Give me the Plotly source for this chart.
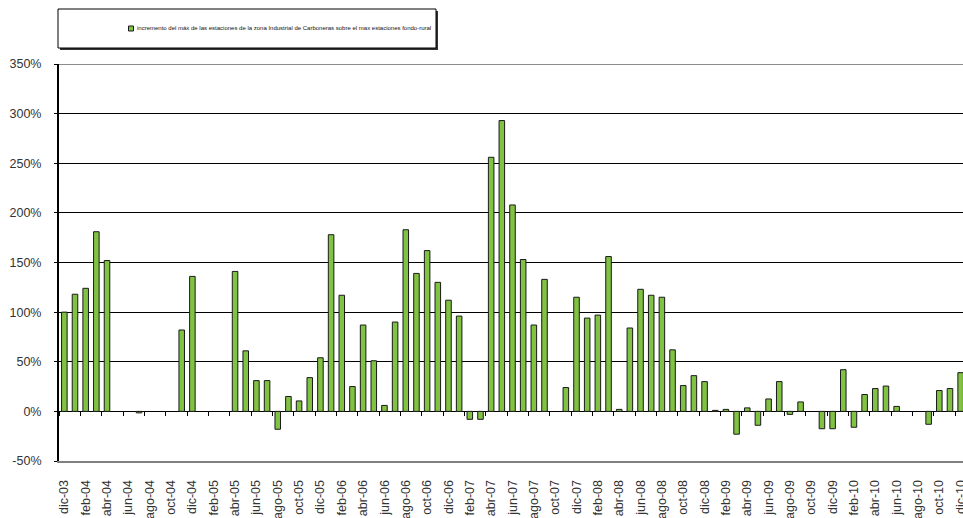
import plotly.graph_objects as go

# month categories dic-03 .. dic-10
month_abbr = ['ene', 'feb', 'mar', 'abr', 'may', 'jun', 'jul', 'ago', 'sep', 'oct', 'nov', 'dic']
years = ['04', '05', '06', '07', '08', '09', '10']
months = ['dic-03'] + [f'{m}-{y}' for y in years for m in month_abbr]

# increment (%) of the industrial-zone max over the rural background max
increment = [
    100, 118, 124, 181, 152, None, None, -1.5, None, None, None, 82, 136,          # dic-03 .. dic-04
    None, None, None, 141, 61, 31, 31, -18, 15, 10.5, 34, 54,                     # 2005
    178, 117, 25, 87, 51, 6, 90, 183, 139, 162, 130, 112,                          # 2006
    96, -8, -8, 256, 293, 208, 153, 87, 133, None, 24, 115,                        # 2007
    94, 97, 156, 2, 84, 123, 117, 115, 62, 26, 36, 30,                             # 2008
    1, 2, -23, 3.5, -14, 12.5, 30, -3, 9.5, None, -17.5, -17.5,                    # 2009
    42, -16, 17, 23, 25.5, 5, None, None, -13, 21, 23, 39,                         # 2010
]

y_ticks = [-50, 0, 50, 100, 150, 200, 250, 300, 350]
y_labels = [f'{v}%' for v in y_ticks]

legend_text = ('incremento del máx de las estaciones de la zona Industrial de Carboneras '
               'sobre el max estaciones fondo-rural')

W, H = 963, 518
ML, MT, MB, MR = 59, 64, 57, 0
PW, PH = W - ML - MR, H - MT - MB


def px(x):
    return (x - ML) / PW


def py(y):
    return (H - MB - y) / PH


fig = go.Figure()
fig.add_trace(go.Bar(
    x=months,
    y=increment,
    width=0.52,
    marker=dict(color='#80c241', line=dict(color='#1a1a1a', width=1)),
    showlegend=False,
))

fig.update_layout(
    width=W,
    height=H,
    margin=dict(l=ML, r=MR, t=MT, b=MB),
    paper_bgcolor='white',
    plot_bgcolor='white',
    font=dict(family='Arial, Liberation Sans, sans-serif', size=12, color='#222222'),
    xaxis=dict(
        type='category',
        categoryorder='array',
        categoryarray=months,
        range=[-0.5, 84.22],
        tickmode='array',
        tickvals=months[::2],
        ticktext=months[::2],
        tickangle=-90,
        ticks='',
        ticklabelstandoff=12,
        showgrid=False,
        showline=True,
        linecolor='#808080',
        linewidth=2,
        automargin=False,
        tickfont=dict(size=12.5, color='#333333'),
    ),
    xaxis2=dict(
        type='category',
        matches='x',
        overlaying='x',
        anchor='free',
        position=0.125,
        tickmode='array',
        tickvals=months[::2],
        tickson='boundaries',
        ticks='outside',
        ticklen=4,
        tickcolor='#000000',
        showticklabels=False,
        showgrid=False,
        showline=False,
    ),
    yaxis=dict(
        range=[-50, 350],
        tickmode='array',
        tickvals=y_ticks,
        ticktext=y_labels,
        ticks='outside',
        ticklen=3,
        tickcolor='#000000',
        ticklabelstandoff=10,
        showgrid=True,
        gridcolor='#000000',
        gridwidth=1,
        zeroline=True,
        zerolinecolor='#000000',
        zerolinewidth=1,
        showline=True,
        linecolor='#000000',
        linewidth=2,
        automargin=False,
        tickfont=dict(size=12.5, color='#333333'),
    ),
    shapes=[
        # grey frame line at the top of the plot area
        dict(type='line', xref='paper', yref='y', x0=0, x1=1, y0=350, y1=350,
             line=dict(color='#8c8c8c', width=2)),
        # legend box with shadow
        dict(type='rect', xref='paper', yref='paper',
             x0=px(60), x1=px(438), y0=py(50), y1=py(11),
             fillcolor='#333333', line=dict(width=0), layer='above'),
        dict(type='rect', xref='paper', yref='paper',
             x0=px(58), x1=px(436), y0=py(48), y1=py(9),
             fillcolor='white', line=dict(color='#000000', width=1), layer='above'),
        # legend key
        dict(type='rect', xref='paper', yref='paper',
             x0=px(128.5), x1=px(133.5), y0=py(31), y1=py(26),
             fillcolor='#80c241', line=dict(color='#1a1a1a', width=1), layer='above'),
    ],
    annotations=[
        dict(x=px(135), y=py(28.5), xref='paper', yref='paper', xanchor='left', yanchor='middle',
             text=legend_text, showarrow=False,
             font=dict(family='Arial, Liberation Sans', size=6, color='#111111')),
    ],
)

# dummy trace so the tick axis at y=0 is drawn
fig.add_trace(go.Scatter(x=[months[0]], y=[None], xaxis='x2', showlegend=False, hoverinfo='skip'))

fig.write_html('out.html', config={'displayModeBar': False},
               post_script="document.body.style.margin='0px';")
